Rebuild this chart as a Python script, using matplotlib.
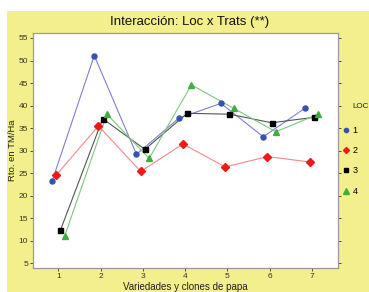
import matplotlib
matplotlib.use("Agg")
import matplotlib.pyplot as plt
from matplotlib.patches import Rectangle

plt.rcParams["font.family"] = ["Liberation Sans", "DejaVu Sans"]

# data
trats = [1, 2, 3, 4, 5, 6, 7]
loc_names = ["1", "2", "3", "4"]
loc1 = [23.2, 51.1, 29.2, 37.2, 40.5, 33.1, 39.5]
loc2 = [24.6, 35.5, 25.4, 31.5, 26.4, 28.7, 27.5]
loc3 = [12.4, 37.1, 30.3, 38.3, 38.1, 36.2, 37.4]
loc4 = [11.1, 38.1, 28.3, 44.6, 39.4, 34.2, 38.1]
yticks = [5, 10, 15, 20, 25, 30, 35, 40, 45, 50, 55]

series = [loc1, loc2, loc3, loc4]
offsets = [-0.15, -0.05, 0.05, 0.15]
line_cols = ["#7f7fd8", "#f08a8a", "#555555", "#7cc87c"]
mark_cols = ["#3552b0", "#f01818", "#000000", "#3fae3f"]
markers = ["o", "D", "s", "^"]
msizes = [3.6, 3.6, 3.6, 4.5]

W, H = 369, 292
fig = plt.figure(figsize=(W / 100, H / 100), dpi=100)
fig.patch.set_facecolor("white")
fig.add_artist(Rectangle((7 / W, 0), 1 - 7 / W, 1 - 11 / H,
                         transform=fig.transFigure, facecolor="#f3ef8c",
                         edgecolor="none", zorder=0))

ax = fig.add_axes([33 / W, 1 - 268 / H, (338 - 33) / W, (268 - 33) / H])
ax.set_facecolor("white")

for vals, off, lc, mc, mk, ms, name in zip(series, offsets, line_cols,
                                           mark_cols, markers, msizes, loc_names):
    xs = [t + off for t in trats]
    ax.plot(xs, vals, color=lc, lw=0.8, zorder=2)
    ax.plot(xs, vals, linestyle="none", marker=mk, ms=ms, color=mc,
            mec=mc, zorder=3, label=name)

ax.set_xlim(0.4, 7.62)
ax.set_ylim(4.0, 56.1)
ax.set_xticks(trats)
ax.set_yticks(yticks)
ax.tick_params(labelsize=6, length=2, width=0.6, colors="#333333",
               direction="out", pad=1.5)
ax.tick_params(axis="y", right=True)
for s in ax.spines.values():
    s.set_color("#9a9a9a")
    s.set_linewidth(0.9)

ax.set_xlabel("Variedades y clones de papa", fontsize=7, labelpad=1.5,
              color="#222222")
ax.set_ylabel("Rto. en TM/Ha", fontsize=6.8, color="#222222")
ax.yaxis.set_label_coords(-0.054, 0.5)
fig.text(190 / W, 1 - 22 / H, "Interacción: Loc x Trats (**)", fontsize=9.5,
         ha="center", va="center", color="#111111")

leg = ax.legend(loc="upper left", bbox_to_anchor=(0.985, 0.717), frameon=False,
                title="LOC", fontsize=6.5, title_fontsize=6, handletextpad=0.3,
                handlelength=0.8, labelspacing=1.25, markerscale=0.85)
leg.get_title().set_alpha(0)
fig.text(352 / W, 1 - 107 / H, "LOC", fontsize=5.8, ha="left", va="center",
         color="#222222")

fig.savefig("out.png", dpi=100)
